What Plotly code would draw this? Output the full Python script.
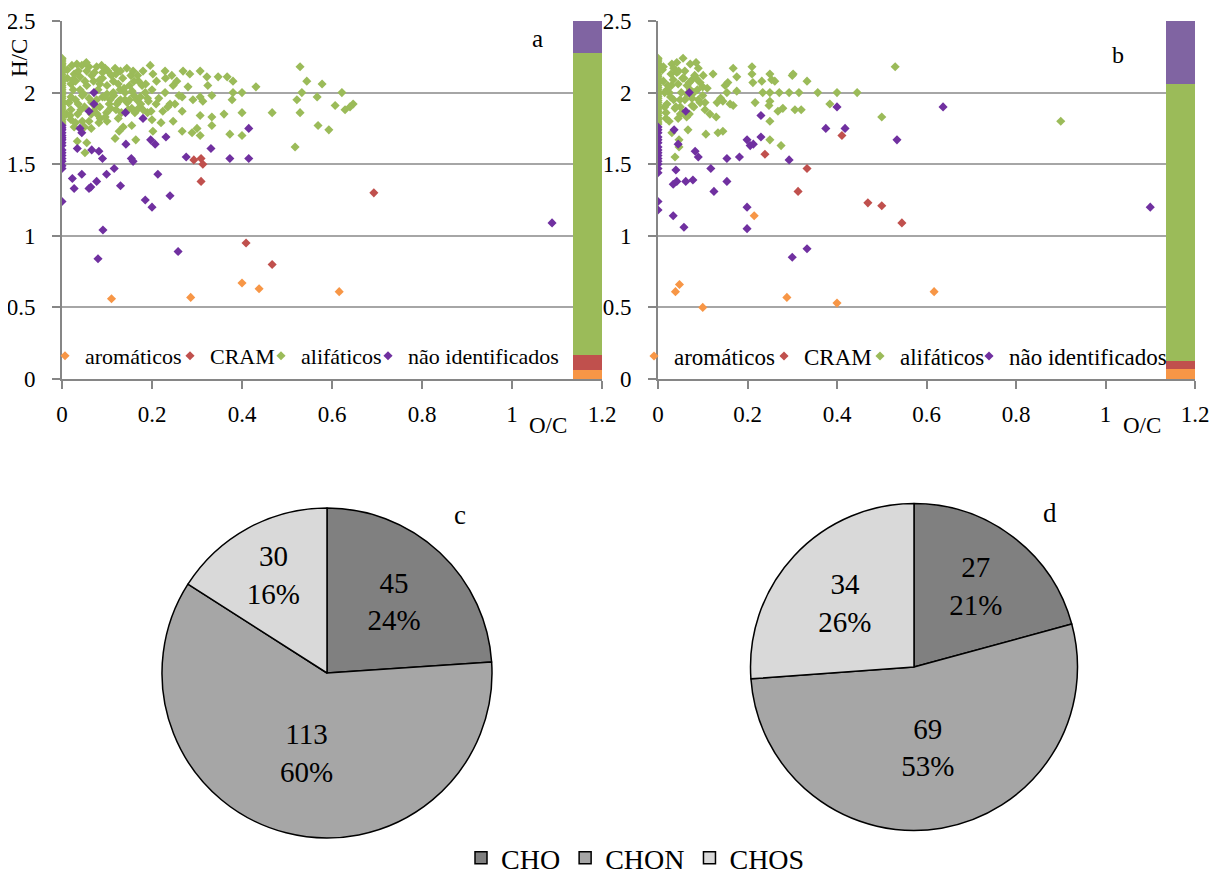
import plotly.graph_objects as go

# the page body adds an 8px margin, so the figure is drawn 8px in and 8px down
PAGE_OFF = 8
W, H = 1223 - PAGE_OFF, 874 - PAGE_OFF
SERIF = "Liberation Serif"

# ---------------- data ----------------
groups = ["aromáticos", "CRAM", "alifáticos", "não identificados"]
scatter_colors = ["#F79646", "#C0504D", "#9BBB59", "#7030A0"]
bar_colors = ["#F79646", "#C0504D", "#9BBB59", "#8064A2"]

x_ticks = [0, 0.2, 0.4, 0.6, 0.8, 1.0, 1.2]
x_ticktext = ["0", "0.2", "0.4", "0.6", "0.8", "1", "1.2"]
y_ticks = [0, 0.5, 1.0, 1.5, 2.0, 2.5]
y_ticktext = ["0", "0.5", "1", "1.5", "2", "2.5"]

# panel a
a_aro_x = [0.11, 0.286, 0.40, 0.438, 0.616]
a_aro_y = [0.56, 0.57, 0.67, 0.63, 0.61]

a_cram_x = [0.293, 0.309, 0.313, 0.309, 0.409, 0.467, 0.693]
a_cram_y = [1.53, 1.54, 1.50, 1.38, 0.95, 0.80, 1.30]

a_ali_x = [0, 0, 0, 0, 0, 0, 0, 0, 0, 0, 0, 0, 0, 0, 0, 0, 0,
           0, 0, 0, 0, 0, 0, 0, 0, 0, 0, 0, 0, 0, 0, 0, 0,
           0.022, 0.033, 0.044, 0.027, 0.02, 0.02, 0.02, 0.02, 0.027, 0.036,
           0.04, 0.051, 0.055, 0.066, 0.077, 0.088, 0.096, 0.084, 0.077, 0.084,
           0.099, 0.107, 0.118, 0.114, 0.129, 0.122, 0.125, 0.118, 0.136, 0.127,
           0.147, 0.153, 0.158, 0.166, 0.164, 0.155, 0.18, 0.178, 0.196, 0.202,
           0.2, 0.209, 0.2, 0.202, 0.22, 0.229, 0.229, 0.224, 0.244, 0.247,
           0.24, 0.247, 0.251, 0.269, 0.267, 0.267, 0.267, 0.284, 0.28, 0.291,
           0.289, 0.30, 0.307, 0.307, 0.307, 0.307, 0.313, 0.322, 0.324, 0.333,
           0.333, 0.333, 0.347, 0.36, 0.367, 0.373, 0.38, 0.38, 0.378, 0.40,
           0.40, 0.40, 0.431, 0.467, 0.518, 0.522, 0.529, 0.529, 0.533, 0.544,
           0.567, 0.569, 0.578, 0.622, 0.607, 0.629, 0.647, 0.64, 0.593,
           0.034, 0.051, 0.055, 0.082,
           0.025, 0.03, 0.035, 0.045, 0.05, 0.055, 0.06, 0.065, 0.07, 0.075,
           0.08, 0.085, 0.09, 0.095, 0.10, 0.105, 0.11, 0.115, 0.12, 0.125,
           0.13, 0.135, 0.14, 0.145, 0.15, 0.155, 0.16, 0.17, 0.175, 0.185,
           0.19, 0.21, 0.215, 0.23, 0.235, 0.255, 0.26, 0.03, 0.06, 0.09,
           0.012, 0.015, 0.01, 0.045, 0.065, 0.1, 0.14, 0.17,
           0.012, 0.018, 0.024, 0.03, 0.036, 0.042, 0.048, 0.054, 0.06, 0.066,
           0.072, 0.078, 0.084, 0.09, 0.096, 0.102, 0.108, 0.114, 0.12, 0.126,
           0.132, 0.138, 0.144, 0.15, 0.156, 0.162, 0.168, 0.174, 0.18, 0.186,
           0.192, 0.198, 0.015, 0.04, 0.07, 0.1, 0.13, 0.16, 0.19, 0.05]
a_ali_y = [2.24, 2.22, 2.20, 2.17, 2.14, 2.11, 2.08, 2.05, 2.02, 1.99, 1.96, 1.93, 1.90, 1.87, 1.84, 1.81, 1.78,
           2.235, 2.205, 2.185, 2.155, 2.125, 2.095, 2.065, 2.035, 2.005, 1.975, 1.945, 1.915, 1.885, 1.855, 1.825, 1.795,
           2.19, 2.20, 2.19, 2.13, 2.06, 1.97, 1.88, 1.81, 1.76, 1.92,
           2.02, 2.08, 2.15, 2.12, 2.18, 2.19, 2.17, 2.06, 1.95, 1.90,
           1.86, 1.95, 2.17, 2.08, 2.02, 1.92, 1.82, 1.68, 1.76, 1.73,
           1.88, 2.12, 2.15, 1.95, 1.67, 1.77, 2.15, 2.05, 2.19, 2.13,
           2.02, 1.92, 1.81, 1.73, 1.79, 2.15, 2.0, 1.87, 2.12, 2.05,
           1.92, 1.80, 1.92, 2.15, 1.97, 1.87, 1.73, 2.13, 2.04, 1.95,
           1.72, 1.75, 2.15, 1.97, 1.84, 1.70, 1.94, 2.11, 2.05, 1.98,
           1.83, 1.77, 2.11, 1.85, 2.11, 1.71, 2.08, 2.0, 1.95, 2.0,
           1.86, 1.70, 2.04, 1.86, 1.62, 1.95, 1.86, 2.18, 2.0, 2.08,
           1.97, 1.77, 2.06, 2.0, 1.91, 1.88, 1.92, 1.90, 1.74,
           1.66, 1.58, 1.65, 1.79,
           2.02, 1.95, 1.85, 1.98, 1.90, 2.05, 1.96, 1.85, 2.08, 1.90,
           2.02, 1.82, 2.10, 1.97, 2.05, 1.92, 2.12, 1.98, 1.88, 2.06,
           1.95, 2.10, 2.0, 1.93, 2.05, 1.89, 1.98, 2.08, 1.92, 2.0,
           1.86, 2.08, 1.96, 2.10, 1.90, 2.08, 1.98, 2.08, 2.18, 2.14,
           2.10, 1.93, 1.85, 1.80, 1.75, 1.80, 1.95, 1.89,
           2.16, 1.84, 2.09, 1.79, 2.15, 1.88, 1.99, 2.21, 1.80, 1.93,
           2.14, 1.85, 2.09, 1.97, 1.83, 2.15, 1.89, 2.00, 2.13, 1.94,
           1.86, 2.03, 2.17, 1.95, 2.01, 1.86, 2.12, 1.97, 1.88, 2.06,
           1.94, 1.87, 1.93, 2.11, 1.87, 1.99, 2.15, 2.08, 1.96, 1.76]

a_ni_x = [0, 0, 0, 0, 0, 0, 0, 0, 0, 0, 0, 0, 0, 0, 0, 0, 0,
          0.071, 0.071, 0.06, 0.04, 0.044, 0.034, 0.066, 0.082, 0.09, 0.023,
          0.027, 0.044, 0.06, 0.064, 0.077, 0.099, 0.116, 0.13, 0.141, 0.142,
          0.154, 0.158, 0.18, 0.197, 0.207, 0.213, 0.231, 0.185, 0.20, 0.24,
          0.276, 0.331, 0.373, 0.415, 0.415, 0.091, 0.08, 0.258, 1.089]
a_ni_y = [1.77, 1.74, 1.70, 1.67, 1.60, 1.56, 1.52, 1.49, 1.47, 1.24,
          1.755, 1.72, 1.685, 1.65, 1.63, 1.58, 1.54,
          2.0, 1.92, 1.87, 1.75, 1.72, 1.61, 1.60, 1.59, 1.54, 1.40,
          1.33, 1.43, 1.33, 1.34, 1.38, 1.43, 1.47, 1.35, 1.86, 1.64,
          1.54, 1.52, 1.82, 1.67, 1.64, 1.43, 1.69, 1.25, 1.20, 1.28,
          1.55, 1.61, 1.54, 1.54, 1.75, 1.04, 0.84, 0.89, 1.09]

# panel b
b_aro_x = [0.039, 0.048, 0.10, 0.288, 0.215, 0.40, 0.617]
b_aro_y = [0.61, 0.66, 0.50, 0.57, 1.14, 0.53, 0.61]

b_cram_x = [0.239, 0.313, 0.333, 0.411, 0.469, 0.50, 0.545]
b_cram_y = [1.57, 1.31, 1.47, 1.70, 1.23, 1.21, 1.09]

b_ali_x = [0, 0, 0, 0, 0, 0, 0, 0, 0, 0, 0, 0, 0, 0, 0, 0, 0,
           0, 0, 0, 0, 0, 0, 0, 0, 0, 0, 0, 0, 0, 0, 0, 0,
           0.031, 0.042, 0.056, 0.029, 0.02, 0.02, 0.018, 0.042, 0.045, 0.049,
           0.038, 0.045, 0.031, 0.038, 0.047, 0.047, 0.067, 0.072, 0.085, 0.09,
           0.076, 0.072, 0.076, 0.065, 0.094, 0.101, 0.105, 0.105, 0.107, 0.123,
           0.116, 0.13, 0.132, 0.134, 0.145, 0.145, 0.15, 0.154, 0.156, 0.161,
           0.168, 0.168, 0.176, 0.176, 0.21, 0.21, 0.212, 0.217, 0.232, 0.234,
           0.25, 0.254, 0.25, 0.25, 0.248, 0.25, 0.25, 0.261, 0.268, 0.271,
           0.279, 0.275, 0.293, 0.30, 0.302, 0.306, 0.315, 0.32, 0.333, 0.357,
           0.384, 0.40, 0.445, 0.50, 0.53, 0.90,
           0.025, 0.035, 0.05, 0.055, 0.06, 0.065, 0.08, 0.085, 0.09, 0.06,
           0.07, 0.08, 0.05, 0.03, 0.012, 0.015, 0.01, 0.1, 0.11, 0.14,
           0.012, 0.018, 0.022, 0.028, 0.034, 0.04, 0.046, 0.052, 0.058, 0.064,
           0.07, 0.076, 0.082, 0.088, 0.094, 0.1, 0.015, 0.025, 0.035, 0.055]
b_ali_y = [2.24, 2.22, 2.20, 2.17, 2.14, 2.11, 2.08, 2.05, 2.02, 1.99, 1.96, 1.93, 1.90, 1.87, 1.84, 1.81, 1.78,
           2.235, 2.205, 2.185, 2.155, 2.125, 2.095, 2.065, 2.035, 2.005, 1.975, 1.945, 1.915, 1.885, 1.855, 1.825, 1.795,
           2.20, 2.21, 2.24, 2.13, 2.02, 1.92, 1.82, 2.14, 2.06, 1.95,
           1.89, 1.82, 1.72, 1.55, 1.62, 1.67, 1.74, 2.20, 2.21, 2.17,
           2.09, 2.02, 1.91, 1.99, 2.07, 2.12, 1.93, 1.88, 1.71, 2.13,
           1.85, 1.83, 1.93, 1.72, 1.73, 1.94, 2.05, 2.0, 2.07, 1.92,
           2.17, 1.91, 2.11, 2.01, 2.18, 2.13, 2.07, 1.93, 2.08, 2.0,
           2.13, 2.09, 2.0, 1.94, 1.91, 1.80, 1.67, 2.08, 1.87, 2.0,
           1.89, 1.63, 2.0, 2.12, 2.13, 1.88, 2.0, 1.88, 2.08, 2.0,
           1.92, 2.0, 2.0, 1.83, 2.18, 1.80,
           2.0, 1.95, 1.90, 2.10, 1.95, 2.05, 2.0, 2.10, 1.95, 2.15,
           1.85, 1.90, 1.85, 2.05, 2.08, 1.90, 2.16, 1.98, 2.03, 1.96,
           2.18, 1.86, 2.05, 1.97, 2.09, 1.90, 2.15, 2.0, 2.10, 1.83,
           2.07, 1.96, 2.12, 2.02, 1.93, 2.04, 2.0, 1.80, 2.17, 1.86]

b_ni_x = [0, 0, 0, 0, 0, 0, 0, 0, 0, 0, 0, 0, 0, 0, 0, 0, 0,
          0.07, 0.062, 0.036, 0.045, 0.04, 0.034, 0.042, 0.062, 0.078, 0.083,
          0.09, 0.118, 0.125, 0.154, 0.154, 0.182, 0.199, 0.206, 0.213, 0.23,
          0.23, 0.293, 0.375, 0.40, 0.418, 0.534, 0.034, 0.058, 0.199, 0.199,
          0.30, 0.333, 0.637, 1.10]
b_ni_y = [1.76, 1.72, 1.69, 1.65, 1.62, 1.58, 1.54, 1.50, 1.44, 1.24, 1.18,
          1.74, 1.67, 1.60, 1.56, 1.52, 1.47,
          2.0, 1.87, 1.74, 1.64, 1.46, 1.36, 1.38, 1.38, 1.39, 1.59,
          1.55, 1.47, 1.31, 1.54, 1.38, 1.55, 1.67, 1.63, 1.64, 1.84,
          1.69, 1.53, 1.75, 1.90, 1.75, 1.67, 1.14, 1.06, 1.20, 1.05,
          0.85, 0.91, 1.90, 1.20]

# stacked composition bars (percent of compounds)
a_bar_pct = [2.5, 4.2, 84.4, 8.9]
b_bar_pct = [2.7, 2.2, 77.4, 17.7]
bar_x = 1.168
bar_w = 0.064

# pies
pie_labels = ["CHO", "CHON", "CHOS"]
pie_colors = ["#808080", "#A6A6A6", "#D9D9D9"]
c_values = [45, 113, 30]
d_values = [27, 69, 34]


# ---------------- figure ----------------
def fx(p):
    """screen pixel x -> paper fraction"""
    return (p - PAGE_OFF) / W


def fy(p):
    """screen pixel y -> paper fraction"""
    return 1 - (p - PAGE_OFF) / H


fig = go.Figure()

panels = [
    dict(xa="x", ya="y", ybar="y3",
         series=[(a_aro_x, a_aro_y), (a_cram_x, a_cram_y), (a_ali_x, a_ali_y), (a_ni_x, a_ni_y)],
         pct=a_bar_pct, legends=["legend", "legend2", "legend3", "legend4"],
         leg_x=[45, 170, 261, 368], leg_size=22),
    dict(xa="x2", ya="y2", ybar="y4",
         series=[(b_aro_x, b_aro_y), (b_cram_x, b_cram_y), (b_ali_x, b_ali_y), (b_ni_x, b_ni_y)],
         pct=b_bar_pct, legends=["legend5", "legend6", "legend7", "legend8"],
         leg_x=[634, 764, 860, 969], leg_size=23),
]

legend_layout = {}
for p in panels:
    for i, (xs, ys) in enumerate(p["series"]):
        fig.add_trace(go.Scatter(
            x=xs, y=ys, mode="markers", name=groups[i],
            marker=dict(symbol="diamond", size=7, color=scatter_colors[i], line=dict(width=0)),
            xaxis=p["xa"], yaxis=p["ya"], legend=p["legends"][i]))
        legend_layout[p["legends"][i]] = dict(
            orientation="h", x=fx(p["leg_x"][i]), y=fy(356), xanchor="left", yanchor="middle",
            font=dict(family=SERIF, size=p["leg_size"], color="black"),
            bgcolor="rgba(0,0,0,0)", itemwidth=30, traceorder="normal")
    for i, v in enumerate(p["pct"]):
        fig.add_trace(go.Bar(
            x=[bar_x], y=[v], width=[bar_w], name=groups[i],
            marker=dict(color=bar_colors[i], line=dict(width=0)),
            xaxis=p["xa"], yaxis=p["ybar"], showlegend=False))

pie_common = dict(
    labels=pie_labels, sort=False, direction="clockwise", rotation=0,
    marker=dict(colors=pie_colors, line=dict(color="black", width=1.5)),
    texttemplate="%{value}<br>%{percent:.0%}", textposition="inside",
    insidetextorientation="horizontal",
    insidetextfont=dict(family=SERIF, size=29, color="black"),
    legend="legend9")
fig.add_trace(go.Pie(values=c_values, domain=dict(x=[fx(162), fx(492)], y=[fy(838), fy(508)]),
                     **pie_common))
fig.add_trace(go.Pie(values=d_values, domain=dict(x=[fx(750.5), fx(1077.5)], y=[fy(830.5), fy(503.5)]),
                     showlegend=False, **pie_common))
legend_layout["legend9"] = dict(
    orientation="h", x=fx(461), y=fy(858), xanchor="left", yanchor="middle",
    font=dict(family=SERIF, size=28, color="black"), bgcolor="rgba(0,0,0,0)",
    itemwidth=30, traceorder="normal")

axis_font = dict(family=SERIF, size=23, color="black")
AX = "#868686"
GRID = "#A6A6A6"


def xaxis(domain, anchor):
    return dict(domain=domain, anchor=anchor, range=[0, 1.2],
                tickvals=x_ticks, ticktext=x_ticktext, tickfont=axis_font,
                showline=True, linecolor=AX, linewidth=2, ticks="outside", ticklen=8,
                tickcolor=AX, tickwidth=1.5, showgrid=False, zeroline=False,
                ticklabelstandoff=5, ticklabeloverflow="allow")


def yaxis(domain, anchor):
    return dict(domain=domain, anchor=anchor, range=[0, 2.5],
                tickvals=y_ticks, ticktext=y_ticktext, tickfont=axis_font,
                showline=True, linecolor=AX, linewidth=2, ticks="outside", ticklen=8,
                tickcolor=AX, tickwidth=1.5, showgrid=True, gridcolor=GRID, gridwidth=1.5,
                zeroline=False, ticklabelstandoff=12, ticklabeloverflow="allow")


ydom = [fy(379), fy(21)]

fig.update_layout(
    width=W, height=H, margin=dict(l=0, r=0, t=0, b=0, autoexpand=False),
    paper_bgcolor="white", plot_bgcolor="white",
    barmode="stack", bargap=0,
    font=dict(family=SERIF, color="black"),
    xaxis=xaxis([fx(62), fx(602)], "y"),
    yaxis=yaxis(ydom, "x"),
    xaxis2=xaxis([fx(658), fx(1195)], "y2"),
    yaxis2=yaxis(ydom, "x2"),
    yaxis3=dict(overlaying="y", anchor="x", range=[0, 100], visible=False),
    yaxis4=dict(overlaying="y2", anchor="x2", range=[0, 100], visible=False),
    showlegend=True,
    **legend_layout,
)

annots = [
    dict(text="H/C", x=fx(20), y=fy(58), textangle=-90, size=23),
    dict(text="O/C", x=fx(548), y=fy(425), textangle=0, size=23),
    dict(text="O/C", x=fx(1142), y=fy(425), textangle=0, size=23),
    dict(text="a", x=fx(537), y=fy(39), textangle=0, size=25),
    dict(text="b", x=fx(1118), y=fy(55), textangle=0, size=24),
    dict(text="c", x=fx(460), y=fy(515), textangle=0, size=27),
    dict(text="d", x=fx(1050), y=fy(513), textangle=0, size=27),
]
for a in annots:
    fig.add_annotation(text=a["text"], x=a["x"], y=a["y"], xref="paper", yref="paper",
                       showarrow=False, textangle=a["textangle"],
                       font=dict(family=SERIF, size=a["size"], color="black"),
                       xanchor="center", yanchor="middle")

fig.write_html("out.html")
